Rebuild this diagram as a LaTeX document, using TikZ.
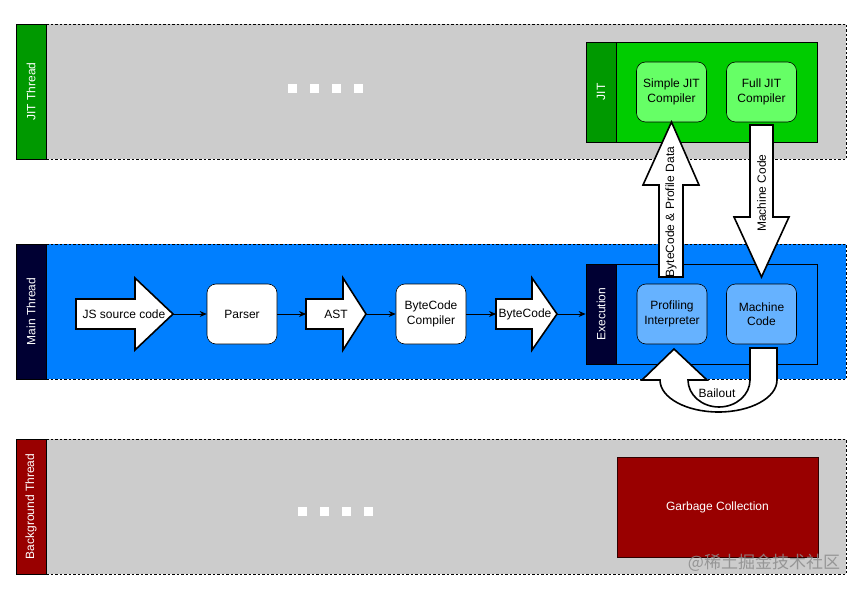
\documentclass[tikz,border=0pt]{standalone}
\usepackage{fontspec}
\setmainfont{Liberation Sans}
\newfontfamily\cjkfont{Noto Sans CJK SC}
\usetikzlibrary{arrows.meta}
\definecolor{lanegray}{HTML}{CCCCCC}
\definecolor{jitgreen}{HTML}{009900}
\definecolor{jitbox}{HTML}{00CC00}
\definecolor{jitinner}{HTML}{66FF66}
\definecolor{mainblue}{HTML}{007FFF}
\definecolor{navy}{HTML}{000033}
\definecolor{execinner}{HTML}{66B2FF}
\definecolor{bgred}{HTML}{990000}
\begin{document}
\begin{tikzpicture}[x=1pt,y=-1pt,
  font=\fontsize{12}{14.5}\selectfont,
  lanelabel/.style={draw=black, line width=0.8pt, rotate=90, text=white, minimum width=135, minimum height=30, inner sep=0pt},
  lanebody/.style={draw=black, line width=0.6pt, dash pattern=on 2.5pt off 2pt, minimum width=800, minimum height=135, inner sep=0pt},
  stripbox/.style={draw=black, line width=0.8pt, rotate=90, text=white, minimum width=100, minimum height=30, inner sep=0pt},
  framebox/.style={draw=black, line width=0.8pt, minimum width=231, minimum height=100, inner sep=0pt},
  stepbox/.style={draw=black, line width=0.6pt, rounded corners=9pt, minimum width=70, minimum height=60, align=center, inner sep=0pt},
  blockarrow/.style={draw=black, line width=1.6pt, fill=white, line join=miter},
  link/.style={draw=black, line width=0.8pt, -{Stealth[length=7pt,width=6pt]}},
  dotsq/.style={fill=white, draw=none}
]
\useasboundingbox (0,0) rectangle (863,591);
\fill[white] (0,0) rectangle (863,591);

% ---------- lanes ----------
\node[lanebody, fill=lanegray] (jitlane) at (446,91.5) {};
\node[lanelabel, fill=jitgreen] (jitlabel) at (31,91.5) {JIT Thread};
\node[lanebody, fill=mainblue] (mainlane) at (446,311.5) {};
\node[lanelabel, fill=navy] (mainlabel) at (31,311.5) {Main Thread};
\node[lanebody, fill=lanegray] (bglane) at (446,506.5) {};
\node[lanelabel, fill=bgred] (bglabel) at (31,506.5) {Background Thread};

% ellipsis squares
\foreach \x in {288,310,332,354} {\fill[dotsq] (\x,84) rectangle ++(9,9);}
\foreach \x in {298,320,342,364} {\fill[dotsq] (\x,507) rectangle ++(9,9);}

% ---------- JIT box ----------
\node[framebox, fill=jitbox] (jitframe) at (701.5,92) {};
\node[stripbox, fill=jitgreen] (jitstrip) at (601,92) {JIT};
\node[stepbox, fill=jitinner] (simplejit) at (671.5,92) {Simple JIT\\Compiler};
\node[stepbox, fill=jitinner] (fulljit) at (761.5,92) {Full JIT\\Compiler};

% ---------- Execution box ----------
\node[framebox, fill=mainblue] (execframe) at (701.5,314) {};
\node[stripbox, fill=navy] (execstrip) at (601,314) {Execution};
\node[stepbox, fill=execinner] (profiling) at (672,314) {Profiling\\Interpreter};
\node[stepbox, fill=execinner] (machine) at (761.5,314) {Machine\\Code};

% ---------- main pipeline ----------
\node[stepbox, fill=white] (parser) at (242,314) {Parser};
\node[stepbox, fill=white] (bcc) at (431,314) {ByteCode\\Compiler};

\draw[blockarrow] (76,299) -- (135,299) -- (135,278) -- (173,314) -- (135,350) -- (135,329) -- (76,329) -- cycle;
\coordinate (jstip) at (173,314);
\node (jstext) at (124,314) {JS source code};

\draw[blockarrow] (306,299) -- (343,299) -- (343,278) -- (366,314) -- (343,350) -- (343,329) -- (306,329) -- cycle;
\coordinate (asttail) at (306,314);
\coordinate (asttip) at (366,314);
\node (asttext) at (336,314) {AST};

\draw[blockarrow] (496,299) -- (532,299) -- (532,278) -- (557,314) -- (532,350) -- (532,329) -- (496,329) -- cycle;
\coordinate (bctail) at (496,314);
\coordinate (bctip) at (557,314);
\node (bctext) at (525,314) {ByteCode};

\draw[link] (jstip) -- (parser.west);
\draw[link] (parser.east) -- (asttail);
\draw[link] (asttip) -- (bcc.west);
\draw[link] (bcc.east) -- (bctail);
\draw[link] (bctip) -- (execstrip.north);

% ---------- vertical block arrows ----------
\draw[blockarrow] (659,277) -- (659,185) -- (643,185) -- (671.5,122) -- (699,185) -- (683,185) -- (683,277) -- cycle;
\node[rotate=90] (uptext) at (671,212) {ByteCode \& Profile Data};

\draw[blockarrow] (750,125) -- (773,125) -- (773,217) -- (789,217) -- (761.5,277) -- (734,217) -- (750,217) -- cycle;
\node[rotate=90] (downtext) at (761.5,193) {Machine Code};

% ---------- bailout ----------
\draw[blockarrow] (750,348) -- (777,348) -- (777,380)
  .. controls (777,397.7) and (750.8,412) .. (718.5,412)
  .. controls (686.2,412) and (660,397.7) .. (660,380)
  -- (642,380) -- (674,349) -- (707,380) -- (688,380)
  .. controls (688,394.9) and (701.9,407) .. (719,407)
  .. controls (736.1,407) and (750,394.9) .. (750,380) -- cycle;
\node (bailout) at (717,393) {Bailout};

% ---------- garbage collection ----------
\node[draw=black!70!bgred, line width=0.8pt, fill=bgred, text=white, minimum width=201, minimum height=100, inner sep=0pt] (gc) at (717.5,507) {Garbage Collection};

% watermark
\node[text=black!45, opacity=0.85, font=\cjkfont\fontsize{17}{17}\selectfont, inner sep=0pt] (wm) at (764,563) {@稀土掘金技术社区};
\end{tikzpicture}
\end{document}
